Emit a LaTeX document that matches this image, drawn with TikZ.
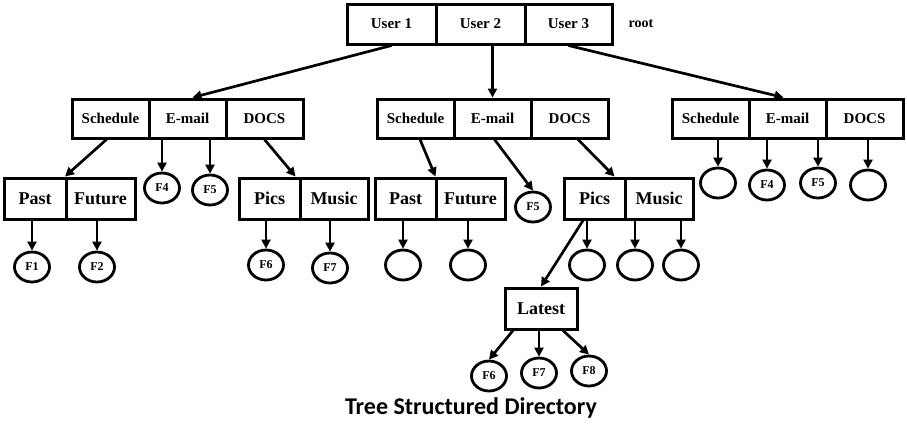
\documentclass[tikz,border=0pt]{standalone}
\usepackage{fontspec}
\setmainfont{Liberation Serif}
\newfontfamily\titlefont{Carlito}
\usetikzlibrary{arrows.meta,shapes.geometric}
\begin{document}
\begin{tikzpicture}[x=1pt,y=-1pt,
  cell/.style={draw,line width=3pt,rectangle,inner sep=0pt,font=\bfseries\fontsize{15}{18}\selectfont},
  lvtwo/.style={cell,minimum width=77pt,minimum height=39pt},
  big/.style={cell,minimum height=41pt,font=\bfseries\fontsize{18}{21}\selectfont},
  file/.style={draw,ellipse,line width=2.8pt,minimum width=35pt,minimum height=30pt,inner sep=0pt,font=\bfseries\fontsize{12}{14}\selectfont},
  arr/.style={line width=2.7pt,-{Triangle[length=9pt,width=9pt]}}]
\useasboundingbox (0,0) rectangle (907,424);
% root
\node[cell,minimum width=89pt,minimum height=40pt] (u1) at (391.5,24) {User 1};
\node[cell,minimum width=89pt,minimum height=40pt] (u2) at (480.5,24) {User 2};
\node[cell,minimum width=87pt,minimum height=40pt] (u3) at (568.5,24) {User 3};
\node[font=\bfseries\fontsize{14}{16}\selectfont] (rootlbl) at (641,24) {root};
% level 2
\node[lvtwo] (sch1) at (110.5,118.5) {Schedule};
\node[lvtwo] (em1) at (187.5,118.5) {E-mail};
\node[lvtwo] (doc1) at (264.5,118.5) {DOCS};
\node[lvtwo] (sch2) at (415.5,118.5) {Schedule};
\node[lvtwo] (em2) at (492.5,118.5) {E-mail};
\node[lvtwo] (doc2) at (569.5,118.5) {DOCS};
\node[lvtwo] (sch3) at (710.5,118.5) {Schedule};
\node[lvtwo] (em3) at (787.5,118.5) {E-mail};
\node[lvtwo] (doc3) at (864.5,118.5) {DOCS};
% level 3
\node[big,minimum width=62pt] (past1) at (35,198.5) {Past};
\node[big,minimum width=69pt] (fut1) at (100.5,198.5) {Future};
\node[big,minimum width=61pt] (pics1) at (269.5,198.5) {Pics};
\node[big,minimum width=68pt] (mus1) at (334,198.5) {Music};
\node[big,minimum width=61pt] (past2) at (405.5,198.5) {Past};
\node[big,minimum width=69pt] (fut2) at (470.5,198.5) {Future};
\node[big,minimum width=61pt] (pics2) at (594.5,198.5) {Pics};
\node[big,minimum width=68pt] (mus2) at (659,198.5) {Music};
\node[big,minimum width=72pt] (latest) at (541,308.5) {Latest};
% files
\node[file] (f1) at (32,267) {F1};
\node[file] (f2) at (97,267) {F2};
\node[file] (f4a) at (162,188) {F4};
\node[file] (f5a) at (210,190) {F5};
\node[file] (f6a) at (266,265) {F6};
\node[file] (f7a) at (330,268) {F7};
\node[file] (f5b) at (533,207) {F5};
\node[file] (e1) at (403,265) {};
\node[file] (e2) at (468,265) {};
\node[file] (e3) at (587,265) {};
\node[file] (e4) at (635,265) {};
\node[file] (e5) at (681,265) {};
\node[file] (f6b) at (489,376) {F6};
\node[file] (f7b) at (539,373) {F7};
\node[file] (f8) at (589,371) {F8};
\node[file] (e6) at (718,183) {};
\node[file] (f4c) at (767,185) {F4};
\node[file] (f5c) at (818,183) {F5};
\node[file] (e7) at (868,185) {};
% connectors
\draw[arr] (u1.south) -- ([xshift=5pt]em1.north);
\draw[arr] (u2.south -| em2.north) -- (em2.north);
\draw[arr] (u3.south) -- ([xshift=-4pt]em3.north);
\draw[arr] ([xshift=-4pt]sch1.south) -- ([xshift=30pt]past1.north);
\draw[arr] (em1.south -| f4a.north) -- (f4a.north);
\draw[arr] (em1.south -| f5a.north) -- (f5a.north);
\draw[arr] (doc1.south) -- ([xshift=-3pt]mus1.north west);
\draw[arr] (past1.south -| f1.north) -- (f1.north);
\draw[arr] (fut1.south -| f2.north) -- (f2.north);
\draw[arr] (pics1.south -| f6a.north) -- (f6a.north);
\draw[arr] (mus1.south -| f7a.north) -- (f7a.north);
\draw[arr] ([xshift=4.5pt]sch2.south) -- ([xshift=-2pt]past2.north east);
\draw[arr] ([xshift=2pt]em2.south) -- (f5b.north);
\draw[arr] ([xshift=8.5pt]doc2.south) -- ([xshift=20pt]pics2.north);
\draw[arr] (past2.south -| e1.north) -- (e1.north);
\draw[arr] (fut2.south -| e2.north) -- (e2.north);
\draw[arr] (pics2.south -| e3.north) -- (e3.north);
\draw[arr] (mus2.south -| e4.north) -- (e4.north);
\draw[arr] (mus2.south -| e5.north) -- (e5.north);
\draw[arr] ([xshift=-11.5pt]pics2.south) -- (latest.north);
\draw[arr] ([xshift=-28pt]latest.south) -- (f6b.north);
\draw[arr] (latest.south -| f7b.north) -- (f7b.north);
\draw[arr] ([xshift=22pt]latest.south) -- (f8.north);
\draw[arr] (sch3.south -| e6.north) -- (e6.north);
\draw[arr] (em3.south -| f4c.north) -- (f4c.north);
\draw[arr] (em3.south -| f5c.north) -- (f5c.north);
\draw[arr] (doc3.south -| e7.north) -- (e7.north);
% title
\node[font=\titlefont\bfseries\fontsize{24}{28}\selectfont] (title) at (471,408) {Tree Structured Directory};
\end{tikzpicture}
\end{document}
